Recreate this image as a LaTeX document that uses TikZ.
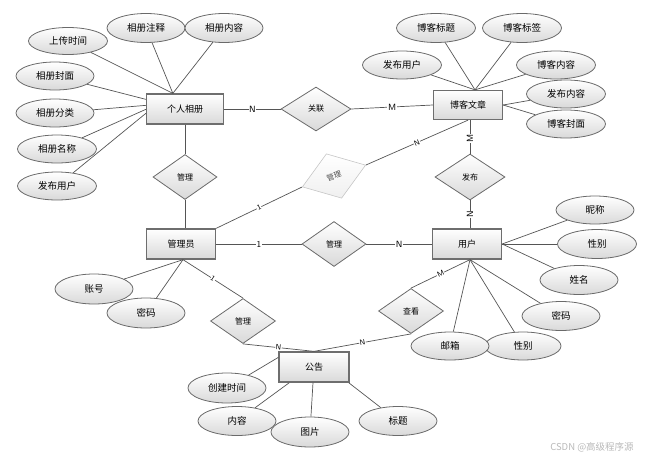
\documentclass[tikz,border=0pt]{standalone}
\usepackage{fontspec}
\newfontfamily\cjk{Noto Sans CJK SC}
\usetikzlibrary{shapes.geometric,calc}
\definecolor{edgec}{HTML}{555555}
\definecolor{entb}{HTML}{6E6E6E}
\definecolor{attb}{HTML}{6A6A6A}
\definecolor{shadeb}{HTML}{D9D9D9}
\begin{document}
\begin{tikzpicture}[x=1pt,y=-1pt,
 ent/.style={draw=entb, line width=1.3pt, rectangle, minimum width=69pt, minimum height=30pt, inner sep=0pt, top color=white, bottom color=shadeb, font=\cjk\fontsize{9}{9}\selectfont},
 rel/.style={draw=attb, line width=0.8pt, diamond, minimum width=64pt, minimum height=45pt, inner sep=0pt, top color=white, bottom color=shadeb, font=\cjk\fontsize{8}{8}\selectfont},
 attr/.style={draw=attb, line width=0.8pt, ellipse, minimum width=78pt, minimum height=28pt, inner sep=0pt, top color=white, bottom color=shadeb, font=\cjk\fontsize{9.5}{9.5}\selectfont},
 lnk/.style={draw=edgec, line width=0.7pt},
 card/.style={fill=white, inner sep=0.6pt, font=\sffamily\fontsize{9}{9}\selectfont},
 scard/.style={fill=white, inner sep=0.4pt, sloped, font=\sffamily\fontsize{7.5}{7.5}\selectfont}
]
\useasboundingbox (0,0) rectangle (648,458);
% entities
\node[ent, minimum width=77pt] (pa) at (185,109) {个人相册};
\node[ent, minimum height=29pt] (blog) at (468,105) {博客文章};
\node[ent] (mgr) at (181,244) {管理员};
\node[ent] (user) at (467,244) {用户};
\node[ent, minimum width=70pt] (ann) at (314,367) {公告};
% relations
\node[rel, minimum width=70pt, minimum height=44pt] (r1) at (316,109) {关联};
\node[rel] (r2) at (185,177) {管理};
\node[rel, minimum width=70pt, minimum height=46pt] (r3) at (470,177) {发布};
\node[rel] (r4) at (334,244) {管理};
\node[rel, minimum width=65pt] (r5) at (243,321) {管理};
\node[rel, minimum width=65pt] (r6) at (411,311) {查看};
\node[diamond, rotate=19, draw=gray!45, line width=0.6pt, minimum width=67pt, minimum height=47pt, inner sep=0pt, top color=white, bottom color=gray!12, text=gray!60!black, font=\cjk\fontsize{7.5}{7.5}\selectfont] (rd) at (334,176) {管理};
% attributes of 个人相册
\node[attr, minimum width=79pt, minimum height=27pt] (a1) at (68,41) {上传时间};
\node[attr, minimum height=29pt] (a2) at (146,28) {相册注释};
\node[attr, minimum height=29pt] (a3) at (224,28) {相册内容};
\node[attr] (a4) at (55,76) {相册封面};
\node[attr] (a5) at (55,113) {相册分类};
\node[attr, minimum width=79pt] (a6) at (57,149) {相册名称};
\node[attr, minimum width=79pt] (a7) at (57,186) {发布用户};
% attributes of 博客文章
\node[attr, minimum width=79pt, minimum height=29pt] (b1) at (436,28) {博客标题};
\node[attr, minimum width=79pt, minimum height=29pt] (b2) at (522,28) {博客标签};
\node[attr, minimum width=79pt] (b3) at (402,65) {发布用户};
\node[attr, minimum width=79pt] (b4) at (556,65) {博客内容};
\node[attr, minimum width=79pt] (b5) at (566,94) {发布内容};
\node[attr, minimum width=79pt] (b6) at (566,124) {博客封面};
% attributes of 用户
\node[attr] (u1) at (595,210) {昵称};
\node[attr, minimum width=79pt, minimum height=29pt] (u2) at (597,244) {性别};
\node[attr, minimum height=29pt] (u3) at (579,280) {姓名};
\node[attr, minimum height=29pt] (u4) at (561,316) {密码};
\node[attr, minimum width=76pt] (u5) at (523,346) {性别};
\node[attr] (u6) at (450,346) {邮箱};
% attributes of 管理员
\node[attr, minimum height=30pt] (m1) at (94,289) {账号};
\node[attr, minimum height=30pt] (m2) at (146,313) {密码};
% attributes of 公告
\node[attr, minimum height=30pt] (n1) at (227,388) {创建时间};
\node[attr, minimum height=29pt] (n2) at (237,421) {内容};
\node[attr, minimum height=30pt] (n3) at (310,432) {图片};
\node[attr, minimum height=29pt] (n4) at (398,421) {标题};
% anchor points
\coordinate (paT) at ($(pa.north west)+(27,0)$);
\coordinate (paL1) at ($(pa.north west)+(0,6)$);
\coordinate (paL2) at ($(pa.north west)+(0,12)$);
\coordinate (paL3) at ($(pa.north west)+(0,16)$);
\coordinate (paL4) at ($(pa.north west)+(0,20)$);
\coordinate (blT) at ($(blog.north)+(7,0)$);
\coordinate (blR) at (blog.east);
\coordinate (usB) at ($(user.south)+(3,0)$);
\coordinate (mgB) at ($(mgr.south)+(2,0)$);
\coordinate (anL) at ($(ann.north west)+(0,6)$);
\coordinate (anB1) at ($(ann.south west)+(11,0)$);
\coordinate (anB2) at ($(ann.south)+(-1,0)$);
\coordinate (anB3) at ($(ann.south east)+(-1,0)$);
% attribute links
\foreach \a in {a1,a2,a3} \draw[lnk] (\a) -- (paT);
\draw[lnk] (a4) -- (paL1);
\draw[lnk] (a5) -- (paL2);
\draw[lnk] (a6) -- (paL3);
\draw[lnk] (a7) -- (paL4);
\foreach \a in {b1,b2,b3,b4} \draw[lnk] (\a) -- (blT);
\foreach \a in {b5,b6} \draw[lnk] (\a) -- (blR);
\foreach \a in {u1,u2,u3} \draw[lnk] (\a) -- (user.east);
\foreach \a in {u4,u5,u6} \draw[lnk] (\a) -- (usB);
\foreach \a in {m1,m2} \draw[lnk] (\a) -- (mgB);
\draw[lnk] (n1) -- (anL);
\draw[lnk] (n2) -- (anB1);
\draw[lnk] (n3) -- (anB2);
\draw[lnk] (n4) -- (anB3);
% relationship links
\draw[lnk] (pa.east) -- node[card]{N} (r1.west);
\draw[lnk] (r1.east) -- node[card]{M} (blog.west);
\draw[lnk] (pa.south) -- (r2.north);
\draw[lnk] (r2.south) -- (r2.south |- mgr.north);
\draw[lnk] (r3.north |- blog.south) -- node[card, rotate=90, pos=0.55]{M} (r3.north);
\draw[lnk] (r3.south) -- node[card, rotate=90]{N} (r3.south |- user.north);
\draw[lnk] (mgr.east) -- node[card]{1} (r4.west);
\draw[lnk] (r4.east) -- node[card]{N} (user.west);
\draw[lnk] (mgr.north east) -- node[scard]{1} (rd.west);
\draw[lnk] (rd.east) -- node[scard]{N} (blog.south);
\draw[lnk] (mgB) -- node[scard]{1} (r5.north);
\draw[lnk] (r5.south) -- node[scard]{N} (ann.north);
\draw[lnk] (usB) -- node[scard]{M} (r6.north);
\draw[lnk] (r6.south) -- node[scard]{N} (ann.north);
% watermark
\node[text=gray!55, font=\cjk\fontsize{9.5}{9.5}\selectfont] (wm) at (592,447) {CSDN @高级程序源};
\end{tikzpicture}
\end{document}
